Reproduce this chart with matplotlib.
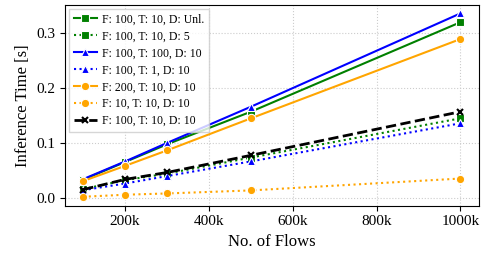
import matplotlib
matplotlib.use("Agg")
import matplotlib.pyplot as plt
from matplotlib.ticker import FuncFormatter

plt.rcParams['font.family'] = ['Liberation Serif', 'DejaVu Serif']

flows = [100000, 200000, 300000, 500000, 1000000]

f100_t10_dunl = [0.034, 0.066, 0.098, 0.157, 0.319]
f100_t10_d5 = [0.017, 0.033, 0.045, 0.074, 0.145]
f100_t100_d10 = [0.035, 0.067, 0.1005, 0.166, 0.335]
f100_t1_d10 = [0.015, 0.027, 0.0405, 0.067, 0.136]
f200_t10_d10 = [0.0315, 0.059, 0.087, 0.145, 0.2885]
f10_t10_d10 = [0.003, 0.0067, 0.009, 0.0145, 0.036]
f100_t10_d10 = [0.016, 0.0345, 0.047, 0.078, 0.157]

series = [
    ("F: 100, T: 10, D: Unl.", f100_t10_dunl, 'green', '-', 's'),
    ("F: 100, T: 10, D: 5", f100_t10_d5, 'green', ':', 's'),
    ("F: 100, T: 100, D: 10", f100_t100_d10, 'blue', '-', '^'),
    ("F: 100, T: 1, D: 10", f100_t1_d10, 'blue', ':', '^'),
    ("F: 200, T: 10, D: 10", f200_t10_d10, 'orange', '-', 'o'),
    ("F: 10, T: 10, D: 10", f10_t10_d10, 'orange', ':', 'o'),
    ("F: 100, T: 10, D: 10", f100_t10_d10, 'black', '--', 'x'),
]

fig, ax = plt.subplots(figsize=(4.87, 2.57), dpi=100)
for label, vals, col, ls, mk in series:
    lw = 2.0 if ls == '--' else 1.5
    is_x = mk == 'x'
    ax.plot(flows, vals, color=col, linestyle=ls, marker=mk,
            markersize=5 if is_x else 6,
            markeredgecolor=col if is_x else 'white',
            markeredgewidth=1.5 if is_x else 0.8,
            linewidth=lw, label=label)

ax.set_xlim(57000, 1045000)
ax.set_ylim(-0.013, 0.35)
ax.set_xticks([200000, 400000, 600000, 800000, 1000000])
ax.xaxis.set_major_formatter(FuncFormatter(lambda v, p: f"{int(v/1000)}k"))
ax.set_yticks([0.0, 0.1, 0.2, 0.3])
ax.grid(True, linestyle=':', color='#cccccc', linewidth=0.8)
ax.tick_params(labelsize=11)
ax.set_xlabel('No. of Flows', fontsize=12)
ax.set_ylabel('Inference Time [s]', fontsize=12)
ax.legend(loc='upper left', fontsize=8.5, fancybox=False, framealpha=0.8,
          handlelength=2.0, handletextpad=0.4, borderpad=0.4, labelspacing=0.42,
          borderaxespad=0.3)

fig.subplots_adjust(left=0.134, right=0.984, top=0.98, bottom=0.2)
fig.savefig('out.png', dpi=100)
